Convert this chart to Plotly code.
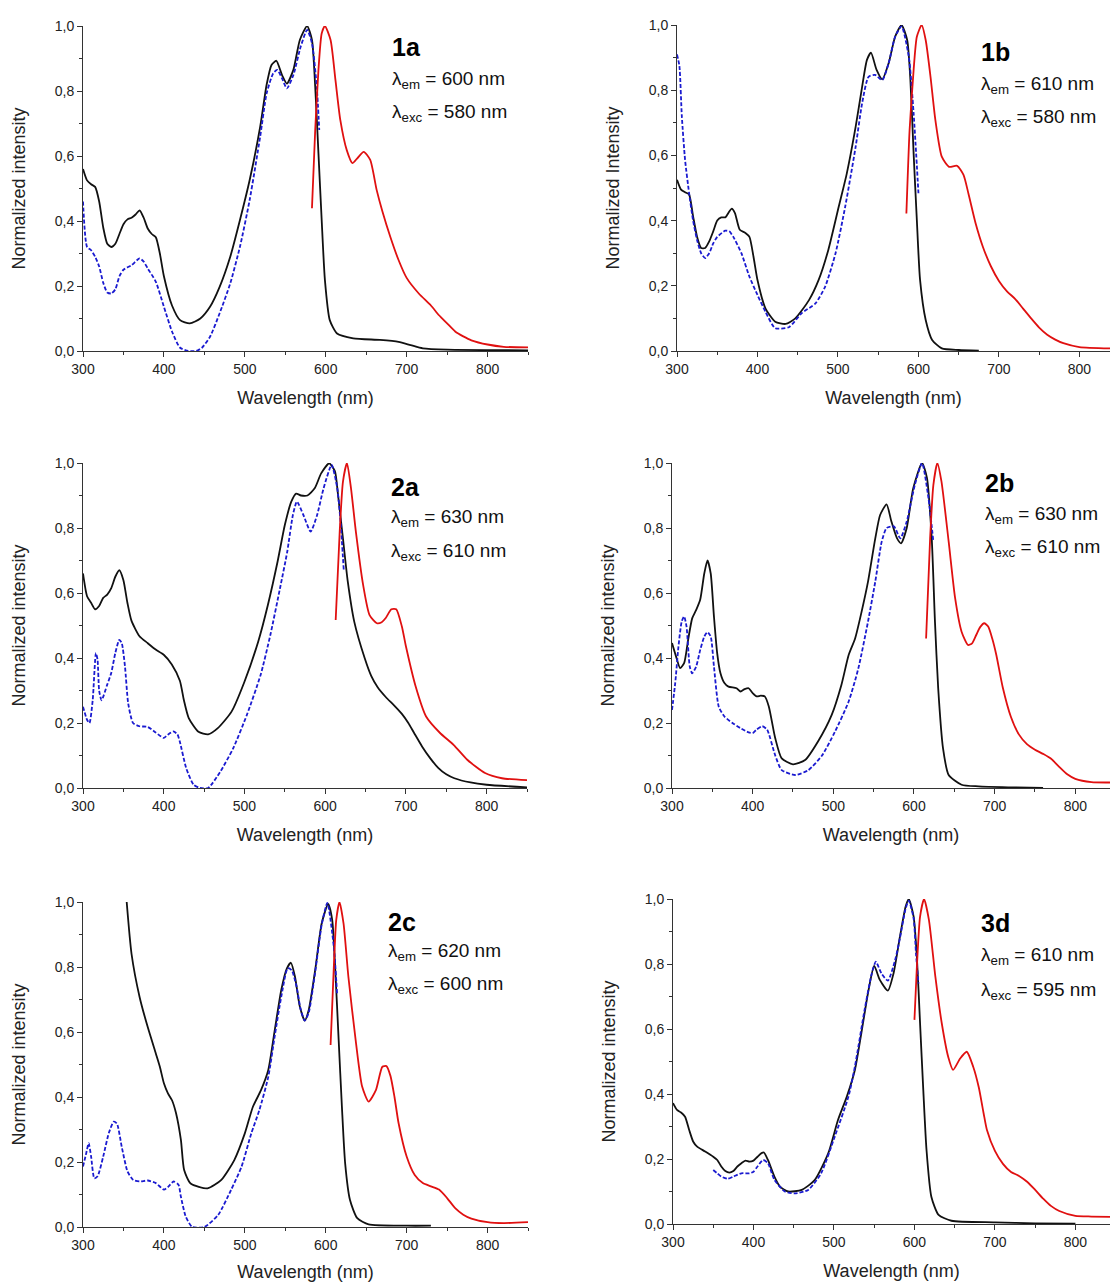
import plotly.graph_objects as go
from plotly.subplots import make_subplots

# panel labels and measurement wavelengths
labels = ['1a', '1b', '2a', '2b', '2c', '3d']
lambda_em = [600, 610, 630, 630, 620, 610]
lambda_exc = [580, 580, 610, 610, 600, 595]
y_titles = ['Normalized intensity', 'Normalized Intensity', 'Normalized intensity',
            'Normalized intensity', 'Normalized intensity', 'Normalized intensity']

# ---- 1a ----
nm_abs_1a = [300, 305, 310, 315, 320, 325, 330, 335, 340, 345, 350, 355, 360, 365, 370, 375, 380, 385, 390, 395,
             400, 410, 420, 432, 445, 457, 469, 482, 494, 506, 519, 527, 533, 539, 546, 552, 560, 568, 577, 583,
             587, 591, 595, 599, 605, 614, 634, 667, 690, 705, 720, 750, 850]
abs_1a = [0.56, 0.525, 0.513, 0.505, 0.46, 0.38, 0.33, 0.32, 0.33, 0.36, 0.39, 0.405, 0.41, 0.42, 0.433, 0.41,
          0.377, 0.36, 0.35, 0.30, 0.23, 0.14, 0.095, 0.085, 0.10, 0.136, 0.198, 0.29, 0.403, 0.526, 0.69, 0.82,
          0.88, 0.893, 0.849, 0.823, 0.865, 0.957, 1.0, 0.957, 0.813, 0.608, 0.403, 0.218, 0.095, 0.054, 0.039,
          0.034, 0.028, 0.018, 0.008, 0.004, 0.002]
nm_exc_1a = [300, 305, 310, 315, 320, 325, 330, 335, 340, 345, 350, 360, 370, 375, 380, 390, 400, 410, 420, 430,
             440, 447, 457, 469, 482, 494, 506, 519, 527, 535, 540, 546, 552, 560, 569, 577, 583, 589, 592]
exc_1a = [0.46, 0.32, 0.31, 0.29, 0.26, 0.21, 0.18, 0.177, 0.19, 0.23, 0.25, 0.264, 0.285, 0.275, 0.254, 0.213,
          0.136, 0.06, 0.01, 0.0, 0.0, 0.01, 0.044, 0.117, 0.208, 0.321, 0.465, 0.66, 0.793, 0.854, 0.865, 0.839,
          0.808, 0.849, 0.936, 0.988, 0.947, 0.81, 0.68]
nm_em_1a = [583, 587, 591, 595, 599, 606, 612, 618, 626, 633, 639, 647, 655, 663, 670, 680, 690, 700, 715, 730,
            740, 750, 760, 770, 780, 800, 820, 850]
em_1a = [0.439, 0.68, 0.865, 0.977, 1.0, 0.957, 0.834, 0.711, 0.618, 0.578, 0.593, 0.613, 0.588, 0.495, 0.43,
         0.35, 0.28, 0.225, 0.177, 0.14, 0.11, 0.085, 0.06, 0.045, 0.033, 0.02, 0.013, 0.011]

# ---- 1b ----
nm_abs_1b = [300, 305, 310, 315, 320, 325, 330, 335, 340, 345, 350, 355, 360, 365, 368, 372, 378, 385, 390, 395,
             400, 410, 422, 435, 447, 464, 476, 488, 501, 511, 522, 530, 536, 541, 548, 555, 563, 571, 579, 586,
             590, 594, 598, 602, 609, 617, 629, 650, 675]
abs_1b = [0.525, 0.495, 0.487, 0.48, 0.413, 0.35, 0.316, 0.316, 0.336, 0.367, 0.4, 0.41, 0.41, 0.428, 0.437,
          0.423, 0.372, 0.362, 0.35, 0.29, 0.218, 0.13, 0.09, 0.083, 0.10, 0.156, 0.218, 0.31, 0.443, 0.545,
          0.688, 0.81, 0.893, 0.915, 0.862, 0.833, 0.883, 0.964, 1.0, 0.954, 0.831, 0.606, 0.402, 0.218, 0.095,
          0.034, 0.008, 0.003, 0.001]
nm_exc_1b = [300, 303, 306, 310, 315, 320, 325, 330, 335, 340, 345, 350, 360, 365, 370, 380, 390, 400, 410, 422,
             439, 455, 472, 484, 497, 509, 522, 530, 538, 546, 555, 563, 571, 579, 588, 594, 600]
exc_1b = [0.91, 0.874, 0.72, 0.587, 0.485, 0.40, 0.34, 0.30, 0.285, 0.30, 0.33, 0.35, 0.369, 0.367, 0.35, 0.30,
          0.228, 0.172, 0.12, 0.07, 0.073, 0.116, 0.146, 0.197, 0.30, 0.443, 0.627, 0.76, 0.841, 0.847, 0.831,
          0.883, 0.964, 0.996, 0.903, 0.729, 0.484]
nm_em_1b = [585, 589, 594, 598, 604, 609, 615, 621, 629, 638, 648, 656, 662, 671, 680, 690, 700, 710, 720, 730,
            740, 750, 760, 770, 780, 800, 838]
em_1b = [0.422, 0.678, 0.862, 0.964, 1.0, 0.954, 0.841, 0.709, 0.596, 0.565, 0.568, 0.54, 0.484, 0.392, 0.32,
         0.26, 0.215, 0.183, 0.16, 0.13, 0.10, 0.072, 0.05, 0.035, 0.024, 0.012, 0.008]

# ---- 2a ----
nm_abs_2a = [300, 305, 310, 315, 320, 325, 330, 335, 340, 345, 350, 355, 360, 370, 380, 390, 400, 410, 420, 425,
             431, 443, 455, 467, 484, 500, 517, 529, 541, 550, 558, 564, 570, 578, 587, 595, 605, 612, 616, 622,
             628, 636, 649, 657, 665, 675, 685, 695, 703, 710, 720, 730, 740, 750, 760, 780, 800, 850]
abs_2a = [0.66, 0.59, 0.57, 0.55, 0.56, 0.585, 0.595, 0.615, 0.65, 0.67, 0.64, 0.57, 0.515, 0.467, 0.446, 0.426,
          0.41, 0.38, 0.33, 0.27, 0.215, 0.173, 0.165, 0.184, 0.235, 0.327, 0.45, 0.563, 0.696, 0.809, 0.881,
          0.906, 0.90, 0.90, 0.922, 0.968, 0.999, 0.975, 0.90, 0.768, 0.635, 0.512, 0.399, 0.345, 0.31, 0.28,
          0.255, 0.228, 0.20, 0.17, 0.128, 0.092, 0.062, 0.042, 0.03, 0.017, 0.01, 0.002]
nm_exc_2a = [300, 305, 308, 312, 316, 318, 320, 323, 330, 335, 340, 345, 348, 352, 356, 362, 370, 380, 390, 400,
             405, 412, 417, 420, 428, 437, 445, 455, 470, 486, 503, 520, 532, 544, 553, 560, 565, 573, 582, 590,
             598, 608, 615, 619, 623]
exc_2a = [0.25, 0.21, 0.20, 0.27, 0.415, 0.395, 0.30, 0.27, 0.318, 0.354, 0.415, 0.456, 0.446, 0.374, 0.26, 0.20,
          0.19, 0.188, 0.171, 0.154, 0.164, 0.174, 0.165, 0.142, 0.06, 0.01, 0.0, 0.0, 0.05, 0.122, 0.225, 0.348,
          0.47, 0.614, 0.727, 0.84, 0.881, 0.84, 0.789, 0.84, 0.922, 0.994, 0.922, 0.82, 0.671]
nm_em_2a = [613, 618, 622, 627, 632, 638, 647, 655, 664, 670, 675, 682, 688, 695, 700, 712, 725, 742, 759, 776,
            798, 819, 850]
em_2a = [0.517, 0.789, 0.942, 1.0, 0.922, 0.789, 0.625, 0.532, 0.507, 0.51, 0.523, 0.55, 0.55, 0.497, 0.436,
         0.313, 0.22, 0.17, 0.133, 0.087, 0.046, 0.03, 0.024]

# ---- 2b ----
nm_abs_2b = [300, 305, 310, 315, 320, 325, 330, 335, 340, 344, 348, 352, 356, 360, 365, 370, 380, 385, 390, 395,
             400, 405, 410, 415, 420, 428, 436, 450, 465, 481, 498, 510, 519, 527, 535, 543, 552, 558, 566, 572,
             579, 584, 591, 599, 610, 616, 622, 626, 630, 636, 643, 659, 680, 720, 760]
abs_2b = [0.446, 0.405, 0.369, 0.384, 0.456, 0.522, 0.548, 0.58, 0.66, 0.70, 0.66, 0.528, 0.415, 0.354, 0.323,
          0.312, 0.307, 0.297, 0.304, 0.307, 0.292, 0.282, 0.284, 0.282, 0.251, 0.153, 0.091, 0.073, 0.086,
          0.143, 0.225, 0.317, 0.409, 0.46, 0.542, 0.635, 0.768, 0.84, 0.873, 0.82, 0.768, 0.753, 0.80, 0.922,
          1.0, 0.955, 0.768, 0.512, 0.307, 0.122, 0.04, 0.01, 0.005, 0.002, 0.0]
nm_exc_2b = [300, 304, 308, 312, 315, 318, 322, 325, 330, 335, 340, 344, 348, 352, 358, 365, 375, 385, 395, 400,
             405, 412, 418, 428, 436, 453, 469, 486, 502, 519, 531, 543, 552, 560, 566, 575, 583, 591, 601, 610,
             618, 624]
exc_2b = [0.24, 0.323, 0.435, 0.512, 0.528, 0.497, 0.374, 0.353, 0.374, 0.425, 0.466, 0.48, 0.466, 0.374, 0.25,
          0.22, 0.2, 0.184, 0.171, 0.169, 0.18, 0.19, 0.179, 0.10, 0.055, 0.04, 0.055, 0.10, 0.173, 0.266, 0.368,
          0.512, 0.635, 0.758, 0.80, 0.805, 0.768, 0.82, 0.932, 1.0, 0.891, 0.758]
nm_em_2b = [615, 620, 624, 629, 634, 643, 651, 659, 667, 672, 677, 682, 687, 692, 697, 702, 710, 720, 730, 740,
            750, 760, 770, 780, 790, 800, 820, 843]
em_2b = [0.46, 0.768, 0.932, 1.0, 0.944, 0.758, 0.584, 0.481, 0.44, 0.445, 0.47, 0.495, 0.507, 0.497, 0.46,
         0.41, 0.31, 0.22, 0.165, 0.135, 0.118, 0.105, 0.09, 0.065, 0.042, 0.028, 0.018, 0.017]

# ---- 2c ----
nm_abs_2c = [354, 360, 370, 380, 390, 395, 400, 405, 410, 415, 421, 425, 433, 454, 471, 487, 500, 510, 520, 529,
             537, 545, 552, 557, 562, 568, 574, 579, 587, 595, 603, 608, 612, 616, 620, 624, 630, 639, 653, 700,
             730]
abs_2c = [1.0, 0.84, 0.707, 0.615, 0.534, 0.493, 0.442, 0.411, 0.39, 0.35, 0.268, 0.175, 0.134, 0.119, 0.145,
          0.206, 0.288, 0.37, 0.421, 0.483, 0.606, 0.729, 0.796, 0.813, 0.77, 0.678, 0.635, 0.668, 0.791, 0.934,
          0.994, 0.945, 0.78, 0.575, 0.37, 0.196, 0.083, 0.027, 0.008, 0.004, 0.004]
nm_exc_2c = [300, 304, 307, 310, 314, 318, 325, 332, 338, 342, 348, 355, 362, 370, 380, 390, 400, 405, 412, 418,
             421, 427, 435, 450, 467, 483, 496, 508, 518, 529, 537, 545, 553, 558, 564, 569, 574, 579, 587, 595,
             602, 610, 614]
exc_2c = [0.186, 0.227, 0.258, 0.217, 0.15, 0.156, 0.217, 0.29, 0.324, 0.318, 0.245, 0.171, 0.145, 0.14, 0.143,
          0.135, 0.115, 0.123, 0.14, 0.13, 0.093, 0.032, 0.0, 0.0, 0.037, 0.114, 0.186, 0.288, 0.36, 0.462,
          0.588, 0.708, 0.796, 0.79, 0.739, 0.67, 0.635, 0.66, 0.785, 0.93, 0.997, 0.862, 0.719]
nm_em_2c = [606, 610, 613, 617, 622, 628, 637, 645, 653, 662, 670, 675, 680, 685, 690, 700, 710, 720, 730, 740,
            750, 760, 770, 780, 800, 820, 850]
em_2c = [0.56, 0.80, 0.945, 1.0, 0.934, 0.77, 0.575, 0.432, 0.386, 0.421, 0.493, 0.495, 0.465, 0.40, 0.32, 0.217,
         0.16, 0.135, 0.125, 0.115, 0.089, 0.058, 0.038, 0.026, 0.015, 0.012, 0.015]

# ---- 3d ----
nm_abs_3d = [300, 305, 310, 315, 320, 325, 330, 340, 350, 355, 360, 365, 370, 375, 380, 385, 390, 395, 400, 405,
             410, 413, 418, 426, 433, 443, 460, 476, 493, 505, 516, 526, 534, 543, 550, 557, 567, 574, 582, 589,
             593, 599, 603, 607, 611, 615, 621, 630, 646, 700, 750, 800]
abs_3d = [0.372, 0.351, 0.343, 0.33, 0.29, 0.254, 0.238, 0.223, 0.207, 0.197, 0.177, 0.163, 0.158, 0.163, 0.177,
          0.187, 0.195, 0.192, 0.195, 0.207, 0.218, 0.22, 0.197, 0.146, 0.115, 0.10, 0.105, 0.135, 0.218, 0.32,
          0.392, 0.474, 0.587, 0.72, 0.794, 0.751, 0.718, 0.771, 0.884, 0.976, 1.0, 0.946, 0.823, 0.617, 0.412,
          0.228, 0.084, 0.028, 0.01, 0.005, 0.002, 0.001]
nm_exc_3d = [350, 355, 360, 368, 375, 385, 395, 400, 405, 412, 418, 426, 439, 451, 468, 484, 501, 518, 526, 538,
             547, 552, 559, 567, 576, 582, 589, 593, 599, 602, 605]
exc_3d = [0.166, 0.156, 0.146, 0.139, 0.146, 0.156, 0.156, 0.161, 0.177, 0.197, 0.187, 0.136, 0.10, 0.094, 0.105,
          0.156, 0.269, 0.392, 0.484, 0.658, 0.771, 0.807, 0.771, 0.749, 0.812, 0.88, 0.97, 0.995, 0.94, 0.83,
          0.74]
nm_em_3d = [600, 603, 607, 612, 618, 626, 634, 642, 648, 657, 665, 673, 680, 686, 690, 700, 710, 720, 730, 740,
            750, 760, 770, 780, 800, 820, 843]
em_3d = [0.628, 0.79, 0.946, 1.0, 0.936, 0.761, 0.617, 0.514, 0.474, 0.51, 0.53, 0.484, 0.42, 0.34, 0.29, 0.225,
         0.185, 0.16, 0.148, 0.13, 0.105, 0.078, 0.055, 0.04, 0.025, 0.023, 0.022]

panels = [
    (nm_abs_1a, abs_1a, nm_exc_1a, exc_1a, nm_em_1a, em_1a),
    (nm_abs_1b, abs_1b, nm_exc_1b, exc_1b, nm_em_1b, em_1b),
    (nm_abs_2a, abs_2a, nm_exc_2a, exc_2a, nm_em_2a, em_2a),
    (nm_abs_2b, abs_2b, nm_exc_2b, exc_2b, nm_em_2b, em_2b),
    (nm_abs_2c, abs_2c, nm_exc_2c, exc_2c, nm_em_2c, em_2c),
    (nm_abs_3d, abs_3d, nm_exc_3d, exc_3d, nm_em_3d, em_3d),
]

W, H = 1110, 1282
# plot area boxes in pixels: left, right, top, bottom, x max of range
boxes = [
    (83, 528, 26, 351, 850),
    (677, 1110, 25, 351, 838),
    (83, 527, 463, 788, 850),
    (672, 1110, 463, 788, 843),
    (83, 528, 902, 1227, 850),
    (673, 1110, 899, 1224, 843),
]
# label positions (left x, centre y of label, lambda_em line, lambda_exc line)
label_pos = [
    (390, 47, 80, 113),
    (979, 52, 85, 118),
    (389, 487, 518, 552),
    (983, 483, 515, 548),
    (386, 922, 952, 985),
    (979, 923, 956, 991),
]

FONT = 'Liberation Sans, Arial, sans-serif'
BLACK = '#111111'
BLUE = '#1a1ad0'
RED = '#e01010'

fig = make_subplots(rows=3, cols=2)

for i, (xa, ya, xe, ye, xm, ym) in enumerate(panels):
    r, c = i // 2 + 1, i % 2 + 1
    fig.add_trace(go.Scatter(x=xa, y=ya, mode='lines', line=dict(color=BLACK, width=1.8, shape='spline', smoothing=0.6),
                             showlegend=False), row=r, col=c)
    fig.add_trace(go.Scatter(x=xe, y=ye, mode='lines', line=dict(color=BLUE, width=1.8, dash='4px,2px', shape='spline', smoothing=0.6),
                             showlegend=False), row=r, col=c)
    fig.add_trace(go.Scatter(x=xm, y=ym, mode='lines', line=dict(color=RED, width=1.8, shape='spline', smoothing=0.6),
                             showlegend=False), row=r, col=c)

    left, right, top, bottom, xmax = boxes[i]
    n = '' if i == 0 else str(i + 1)
    fig.layout['xaxis' + n].update(
        domain=[left / W, right / W], range=[300, xmax], automargin=False,
        tickvals=[300, 400, 500, 600, 700, 800], ticks='outside', ticklen=5, tickwidth=1, tickcolor='#333',
        minor=dict(dtick=50, tick0=300, ticks='outside', ticklen=3, tickcolor='#333'),
        showline=True, linecolor='#333', linewidth=1, showgrid=False, zeroline=False,
        tickfont=dict(family=FONT, size=14, color='#222'),
        title=dict(text='Wavelength (nm)', font=dict(family=FONT, size=18, color='#222'), standoff=15),
    )
    fig.layout['yaxis' + n].update(
        domain=[1 - bottom / H, 1 - top / H], range=[0, 1.0], automargin=False,
        tickvals=[0, 0.2, 0.4, 0.6, 0.8, 1.0], tickformat='.1f', ticks='outside', ticklen=5, tickwidth=1, tickcolor='#333',
        minor=dict(dtick=0.1, tick0=0, ticks='outside', ticklen=3, tickcolor='#333'),
        showline=True, linecolor='#333', linewidth=1, showgrid=False, zeroline=False,
        tickfont=dict(family=FONT, size=14, color='#222'),
        title=dict(text=y_titles[i], font=dict(family=FONT, size=18, color='#222'), standoff=24),
    )

    lx, ly, ley, lxy = label_pos[i]
    fig.add_annotation(x=lx / W, y=1 - ly / H, xref='paper', yref='paper', xanchor='left', yanchor='middle',
                       text='<b>' + labels[i] + '</b>', showarrow=False,
                       font=dict(family=FONT, size=25, color='#000'))
    fig.add_annotation(x=lx / W, y=1 - ley / H, xref='paper', yref='paper', xanchor='left', yanchor='middle',
                       text='λ<sub>em</sub> = %d nm' % lambda_em[i], showarrow=False,
                       font=dict(family=FONT, size=19, color='#111'))
    fig.add_annotation(x=lx / W, y=1 - lxy / H, xref='paper', yref='paper', xanchor='left', yanchor='middle',
                       text='λ<sub>exc</sub> = %d nm' % lambda_exc[i], showarrow=False,
                       font=dict(family=FONT, size=19, color='#111'))

fig.update_layout(
    width=W, height=H,
    margin=dict(l=0, r=0, t=0, b=0),
    paper_bgcolor='white', plot_bgcolor='white',
    separators=', ',
    font=dict(family=FONT),
)

fig.write_html("out.html", config={'displayModeBar': False},
               post_script="document.body.style.margin='0';")
